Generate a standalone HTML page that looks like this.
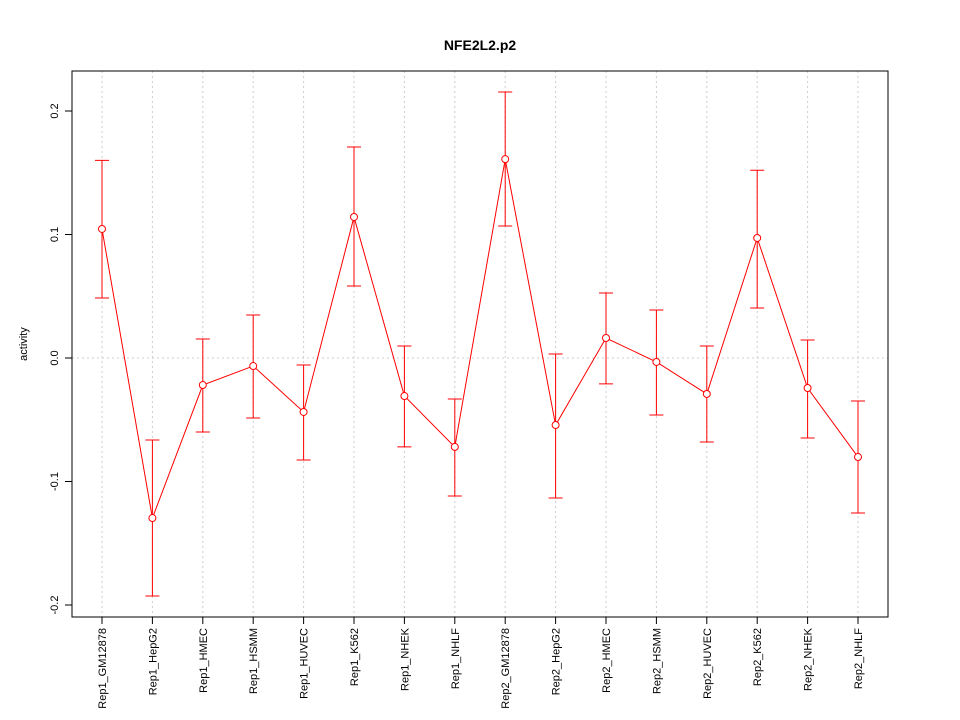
<!DOCTYPE html>
<html><head><meta charset="utf-8"><style>
body{margin:0;background:#fff;}
svg{display:block;font-family:"Liberation Sans",Arial,sans-serif;}
</style></head><body>
<svg id="chart" width="960" height="720" viewBox="0 0 960 720" xmlns="http://www.w3.org/2000/svg">
<rect width="960" height="720" fill="#fff"/>
<text x="480" y="50" text-anchor="middle" font-size="14" font-weight="bold">NFE2L2.p2</text>
<text x="27" y="344" text-anchor="middle" font-size="11" transform="rotate(-90 27 344)">activity</text>
<g id="grid"></g><g id="axes"></g><g id="series"></g>
<rect x="72" y="71" width="816" height="546" fill="none" stroke="#000" stroke-width="1"/>
</svg>
<script>
const categories = ["Rep1_GM12878","Rep1_HepG2","Rep1_HMEC","Rep1_HSMM","Rep1_HUVEC","Rep1_K562","Rep1_NHEK","Rep1_NHLF","Rep2_GM12878","Rep2_HepG2","Rep2_HMEC","Rep2_HSMM","Rep2_HUVEC","Rep2_K562","Rep2_NHEK","Rep2_NHLF"];
const values = [0.1045,-0.1296,-0.0219,-0.0065,-0.0437,0.1142,-0.0308,-0.072,0.161,-0.0543,0.0162,-0.0032,-0.0291,0.0972,-0.0243,-0.0802];
const upper = [0.160,-0.0664,0.0154,0.0348,-0.0057,0.1709,0.0097,-0.0332,0.2154,0.0032,0.0526,0.0389,0.0097,0.152,0.0146,-0.0348];
const lower = [0.0486,-0.1927,-0.0599,-0.0486,-0.0826,0.0583,-0.072,-0.1117,0.1069,-0.1134,-0.021,-0.0462,-0.068,0.0405,-0.0648,-0.1255];
const yTicks = [-0.2,-0.1,0.0,0.1,0.2];
const yTickLabels = ["-0.2","-0.1","0.0","0.1","0.2"];

const NS="http://www.w3.org/2000/svg";
const xS=i=>102+i*(756/(categories.length-1));
const yS=v=>358-v*1235;
function mk(tag,attrs,parent,txt){const e=document.createElementNS(NS,tag);for(const k in attrs)e.setAttribute(k,attrs[k]);if(txt!==undefined)e.textContent=txt;parent.appendChild(e);return e;}
const grid=document.getElementById('grid'),axes=document.getElementById('axes'),ser=document.getElementById('series');

categories.forEach((c,i)=>{
  const g=mk('line',{x1:xS(i),x2:xS(i),y1:71,y2:617,stroke:'#ccc','stroke-dasharray':'2,3'},grid);
  
  
  const t=mk('line',{x1:xS(i),x2:xS(i),y1:617,y2:624,stroke:'#000'},axes);
  
  
  const l=mk('text',{x:0,y:0,'font-size':11,'text-anchor':'end',transform:`translate(${xS(i)+4},628) rotate(-90)`},axes,c);
  
  
});
const zg=mk('line',{x1:72,x2:888,y1:yS(0),y2:yS(0),stroke:'#ccc','stroke-dasharray':'2,3'},grid);


yTicks.forEach((v,i)=>{
  const t=mk('line',{x1:65,x2:72,y1:yS(v),y2:yS(v),stroke:'#000'},axes);
  
  
  const l=mk('text',{x:0,y:0,'font-size':11,'text-anchor':'middle',transform:`translate(${58},${yS(v)}) rotate(-90)`},axes,yTickLabels[i]);
  
  
});
const pl=mk('polyline',{points:values.map((v,i)=>xS(i)+','+yS(v)).join(' '),fill:'none',stroke:'#f00','stroke-width':1},ser);


values.forEach((v,i)=>{
  const x=xS(i);
  const eb=mk('path',{d:`M${x},${yS(lower[i])}V${yS(upper[i])}M${x-7},${yS(upper[i])}H${x+7}M${x-7},${yS(lower[i])}H${x+7}`,stroke:'#f00',fill:'none'},ser);
  
  
  const p=mk('circle',{cx:x,cy:yS(v),r:3.5,fill:'#fff',stroke:'#f00'},ser);
  
  
});
</script>
</body></html>
